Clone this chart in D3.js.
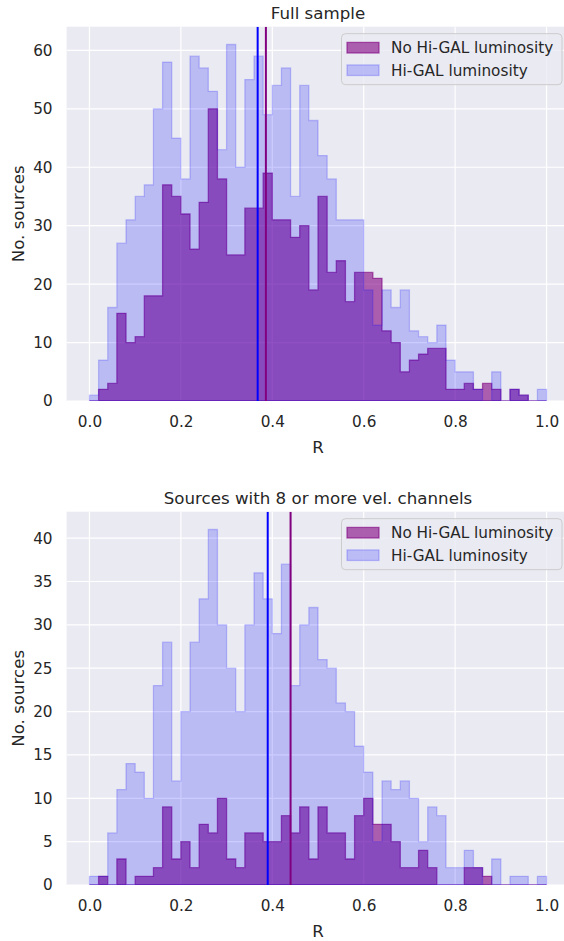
<!DOCTYPE html>
<html>
<head>
<meta charset="utf-8">
<script src="https://cdn.jsdelivr.net/npm/d3@7"></script>
<style>
  html, body { margin: 0; padding: 0; background: #ffffff; }
  svg { display: block; }
  text { font-family: "DejaVu Sans", sans-serif; fill: #262626; }
</style>
</head>
<body>
<svg id="chart" width="564" height="941"></svg>
<script>
// ---- DATA ----
const binLefts = [0.00,0.02,0.04,0.06,0.08,0.10,0.12,0.14,0.16,0.18,
                  0.20,0.22,0.24,0.26,0.28,0.30,0.32,0.34,0.36,0.38,
                  0.40,0.42,0.44,0.46,0.48,0.50,0.52,0.54,0.56,0.58,
                  0.60,0.62,0.64,0.66,0.68,0.70,0.72,0.74,0.76,0.78,
                  0.80,0.82,0.84,0.86,0.88,0.90,0.92,0.94,0.96,0.98];
const binWidth = 0.02;

const fullHiGAL = [1,7,16,27,31,35,37,50,58,45,
                   38,59,57,53,43,61,40,55,59,49,
                   54,57,35,54,48,42,38,31,31,31,
                   19,13,19,16,19,12,11,10,13,7,
                   5,5,2,0,5,0,2,1,0,2];
const fullNoHiGAL = [0,2,3,15,10,11,18,18,37,35,
                     32,26,34,50,38,25,25,33,33,39,
                     31,31,28,30,19,35,22,24,17,22,
                     22,21,12,10,5,7,8,9,9,2,
                     2,3,2,3,2,0,2,1,0,0];
const velHiGAL = [1,1,6,11,14,13,10,23,28,12,
                  20,28,33,41,30,25,20,30,36,33,
                  29,37,23,30,32,26,25,21,20,16,
                  13,5,12,11,12,10,5,9,8,2,
                  2,4,2,0,3,0,1,1,0,1];
const velNoHiGAL = [0,1,0,3,0,1,1,2,9,3,
                    5,2,7,6,10,3,2,6,6,5,
                    5,8,6,9,3,9,6,6,3,8,
                    10,7,7,5,2,2,4,2,0,0,
                    0,2,2,1,0,0,0,0,0,0];

const meanFull = { hi: 0.368, no: 0.386 };
const meanVel  = { hi: 0.390, no: 0.440 };

const xTicks = [0.0, 0.2, 0.4, 0.6, 0.8, 1.0];
const yTicksFull = [0, 10, 20, 30, 40, 50, 60];
const yTicksVel = [0, 5, 10, 15, 20, 25, 30, 35, 40];

const titles = ["Full sample", "Sources with 8 or more vel. channels"];
const legendLabels = ["No Hi-GAL luminosity", "Hi-GAL luminosity"];
const xLabel = "R";
const yLabel = "No. sources";

// ---- STYLE ----
const colNo = "#800080", alphaNo = 0.6;
const colHi = "#0000ff", alphaHi = 0.2;
const bg = "#eaeaf2";
const fsSmall = "15.28px", fsLarge = "16.67px";

const svg = d3.select("#chart");
svg.append("rect").attr("width", 564).attr("height", 941).attr("fill", "#fff");

const axLeft = 66.6, axRight = 569.4;

function panel(cfg) {
  const { top, bottom, yMax, yTicks, hi, no, means, title, id } = cfg;
  const x = d3.scaleLinear().domain([-0.05, 1.05]).range([axLeft, axRight]);
  const y = d3.scaleLinear().domain([0, yMax * 1.05]).range([bottom, top]);
  const g = svg.append("g");

  const clipId = "clip" + id;
  g.append("clipPath").attr("id", clipId).append("rect")
    .attr("x", axLeft).attr("y", top).attr("width", axRight - axLeft).attr("height", bottom - top);

  g.append("rect").attr("x", axLeft).attr("y", top)
    .attr("width", axRight - axLeft).attr("height", bottom - top).attr("fill", bg);

  // grid
  const grid = g.append("g").attr("clip-path", `url(#${clipId})`);
  grid.selectAll("line.gx").data(xTicks).join("line")
    .attr("x1", d => x(d)).attr("x2", d => x(d)).attr("y1", top).attr("y2", bottom)
    .attr("stroke", "#fff").attr("stroke-width", 1.2);
  grid.selectAll("line.gy").data(yTicks).join("line")
    .attr("y1", d => y(d)).attr("y2", d => y(d)).attr("x1", axLeft).attr("x2", axRight)
    .attr("stroke", "#fff").attr("stroke-width", 1.2);

  const area = d3.area().curve(d3.curveStepAfter)
    .x(d => x(d.x)).y0(y(0)).y1(d => y(d.v));
  const toPts = vals => binLefts.map((b, i) => ({ x: b, v: vals[i] }))
    .concat([{ x: binLefts[binLefts.length - 1] + binWidth, v: vals[vals.length - 1] }]);

  const plot = g.append("g").attr("clip-path", `url(#${clipId})`);
  plot.append("path").attr("d", area(toPts(no)))
    .attr("fill", colNo).attr("fill-opacity", alphaNo)
    .attr("stroke", colNo).attr("stroke-opacity", alphaNo).attr("stroke-width", 1.3)
    .attr("stroke-linejoin", "miter");
  plot.append("path").attr("d", area(toPts(hi)))
    .attr("fill", colHi).attr("fill-opacity", alphaHi)
    .attr("stroke", colHi).attr("stroke-opacity", alphaHi).attr("stroke-width", 1.3)
    .attr("stroke-linejoin", "miter");

  // mean lines
  plot.append("line").attr("x1", x(means.hi)).attr("x2", x(means.hi))
    .attr("y1", top).attr("y2", bottom).attr("stroke", colHi).attr("stroke-width", 2);
  plot.append("line").attr("x1", x(means.no)).attr("x2", x(means.no))
    .attr("y1", top).attr("y2", bottom).attr("stroke", colNo).attr("stroke-width", 2);

  // axes (tick labels only, seaborn darkgrid style)
  const xAxis = d3.axisBottom(x).tickValues(xTicks).tickFormat(d3.format(".1f")).tickSize(0).tickPadding(15);
  const xa = g.append("g").attr("transform", `translate(0,${bottom})`).call(xAxis);
  xa.select(".domain").remove();
  xa.selectAll("text").attr("font-size", fsSmall).attr("fill", "#262626")
    .attr("font-family", "DejaVu Sans, sans-serif").attr("dy", "0.71em");

  const yAxis = d3.axisLeft(y).tickValues(yTicks).tickFormat(d3.format("d")).tickSize(0).tickPadding(14);
  const ya = g.append("g").attr("transform", `translate(${axLeft},0)`).call(yAxis);
  ya.select(".domain").remove();
  ya.selectAll("text").attr("font-size", fsSmall).attr("fill", "#262626")
    .attr("font-family", "DejaVu Sans, sans-serif");

  // labels
  g.append("text").attr("x", (axLeft + axRight) / 2).attr("y", top - 8)
    .attr("text-anchor", "middle").attr("font-size", fsLarge).text(title);
  g.append("text").attr("x", (axLeft + axRight) / 2).attr("y", bottom + 52)
    .attr("text-anchor", "middle").attr("font-size", fsLarge).text(xLabel);
  g.append("text").attr("transform", `translate(24,${(top + bottom) / 2}) rotate(-90)`)
    .attr("text-anchor", "middle").attr("font-size", fsLarge).text(yLabel);

  // legend
  const lg = g.append("g");
  lg.append("rect").attr("x", 341.5).attr("y", top + 7).attr("width", 220.5).attr("height", 51)
    .attr("rx", 4).attr("fill", bg).attr("fill-opacity", 0.8)
    .attr("stroke", "#cccccc").attr("stroke-width", 1);
  const items = [
    { label: legendLabels[0], c: colNo, a: alphaNo },
    { label: legendLabels[1], c: colHi, a: alphaHi }
  ];
  items.forEach((it, i) => {
    const cy = top + 21 + i * 22.5;
    lg.append("rect").attr("x", 347).attr("y", cy - 5.3).attr("width", 32).attr("height", 10.6)
      .attr("fill", it.c).attr("fill-opacity", it.a)
      .attr("stroke", it.c).attr("stroke-opacity", it.a).attr("stroke-width", 1.3);
    lg.append("text").attr("x", 391).attr("y", cy + 5.3).attr("font-size", fsSmall).text(it.label);
  });
}

panel({ id: 1, top: 26.7, bottom: 401, yMax: 61, yTicks: yTicksFull,
        hi: fullHiGAL, no: fullNoHiGAL, means: meanFull, title: titles[0] });
panel({ id: 2, top: 511.7, bottom: 885, yMax: 41, yTicks: yTicksVel,
        hi: velHiGAL, no: velNoHiGAL, means: meanVel, title: titles[1] });
</script>
</body>
</html>
